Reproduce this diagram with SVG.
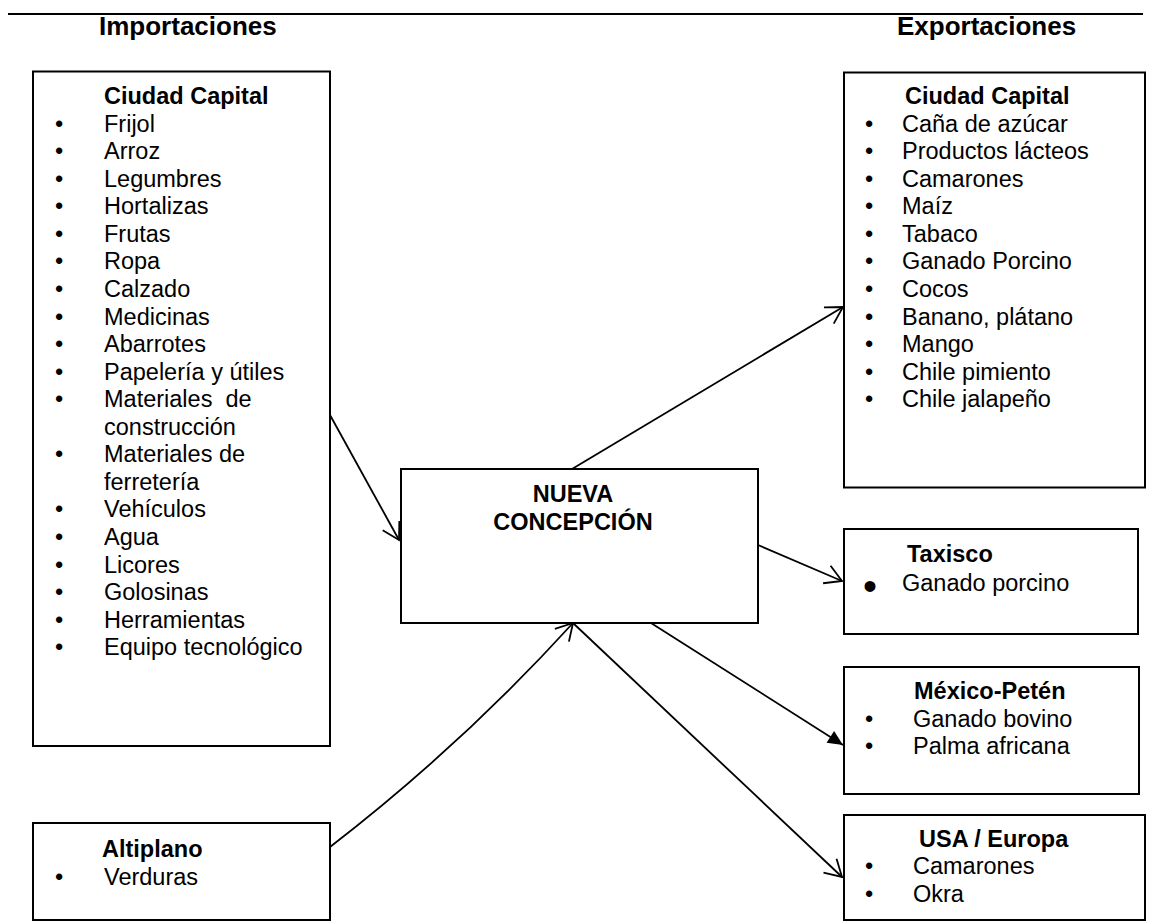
<svg xmlns="http://www.w3.org/2000/svg" width="1161" height="924" viewBox="0 0 1161 924">
<style>
  text { font-family: "Liberation Sans", Arial, sans-serif; fill: #000; }
  .h { font-size: 26px; font-weight: bold; }
  .t { font-size: 23.5px; font-weight: bold; }
  .i { font-size: 23.5px; }
  .b { font-size: 23.5px; text-anchor: middle; }
  .box { fill: #fff; stroke: #000; stroke-width: 2; }
  .c { fill: none; stroke: #000; stroke-width: 1.8; }
</style>
<defs>
  <marker id="open" markerUnits="userSpaceOnUse" viewBox="-19 -11 21 22" markerWidth="21" markerHeight="22" refX="0" refY="0" orient="auto">
    <path d="M-16.5,-9.5 L0,0 L-16.5,9.5" fill="none" stroke="#000" stroke-width="1.8"/>
  </marker>
  <marker id="filled" markerUnits="userSpaceOnUse" viewBox="-17 -9 18 18" markerWidth="18" markerHeight="18" refX="0" refY="0" orient="auto">
    <path d="M-15,-7 L0,0 L-15,7 Z" fill="#000"/>
  </marker>
</defs>

<line x1="8" y1="14" x2="1143" y2="14" stroke="#000" stroke-width="2"/>
<text class="h" x="99" y="35">Importaciones</text>
<text class="h" x="897" y="35">Exportaciones</text>

<g id="connectors">
  <line class="c" x1="330" y1="415" x2="399" y2="540" marker-end="url(#open)"/>
  <line class="c" x1="572" y1="469" x2="843" y2="307" marker-end="url(#open)"/>
  <line class="c" x1="758" y1="545" x2="842" y2="581" marker-end="url(#open)"/>
  <line class="c" x1="651" y1="623" x2="843" y2="745" marker-end="url(#filled)"/>
  <line class="c" x1="573" y1="623" x2="842" y2="877" marker-end="url(#open)"/>
  <path class="c" d="M330,847 Q461,746 573,623" marker-end="url(#open)"/>
</g>

<g id="imp-ciudad-capital">
  <rect class="box" x="33" y="71.5" width="297" height="674.5"/>
  <text class="t" x="104" y="103.5">Ciudad Capital</text>
  <g class="i">
    <text class="i" x="104" y="131.7">Frijol</text>
    <text class="i" x="104" y="159.2">Arroz</text>
    <text class="i" x="104" y="186.8">Legumbres</text>
    <text class="i" x="104" y="214.3">Hortalizas</text>
    <text class="i" x="104" y="241.9">Frutas</text>
    <text class="i" x="104" y="269.4">Ropa</text>
    <text class="i" x="104" y="297">Calzado</text>
    <text class="i" x="104" y="324.5">Medicinas</text>
    <text class="i" x="104" y="352.1">Abarrotes</text>
    <text class="i" x="104" y="379.6">Papelería y útiles</text>
    <text class="i" x="104" y="407.2" xml:space="preserve">Materiales  de</text>
    <text class="i" x="104" y="434.7">construcción</text>
    <text class="i" x="104" y="462.3">Materiales de</text>
    <text class="i" x="104" y="489.8">ferretería</text>
    <text class="i" x="104" y="517.4">Vehículos</text>
    <text class="i" x="104" y="544.9">Agua</text>
    <text class="i" x="104" y="572.5">Licores</text>
    <text class="i" x="104" y="600">Golosinas</text>
    <text class="i" x="104" y="627.6">Herramientas</text>
    <text class="i" x="104" y="655.1">Equipo tecnológico</text>
  </g>
  <g>
    <text class="b" x="59" y="131.7">•</text>
    <text class="b" x="59" y="159.2">•</text>
    <text class="b" x="59" y="186.8">•</text>
    <text class="b" x="59" y="214.3">•</text>
    <text class="b" x="59" y="241.9">•</text>
    <text class="b" x="59" y="269.4">•</text>
    <text class="b" x="59" y="297">•</text>
    <text class="b" x="59" y="324.5">•</text>
    <text class="b" x="59" y="352.1">•</text>
    <text class="b" x="59" y="379.6">•</text>
    <text class="b" x="59" y="407.2">•</text>
    <text class="b" x="59" y="462.3">•</text>
    <text class="b" x="59" y="517.4">•</text>
    <text class="b" x="59" y="544.9">•</text>
    <text class="b" x="59" y="572.5">•</text>
    <text class="b" x="59" y="600">•</text>
    <text class="b" x="59" y="627.6">•</text>
    <text class="b" x="59" y="655.1">•</text>
  </g>
</g>

<g id="imp-altiplano">
  <rect class="box" x="33" y="823" width="297" height="97"/>
  <text class="t" x="102" y="856.7">Altiplano</text>
  <text class="b" x="59" y="885">•</text>
  <text class="i" x="104" y="885">Verduras</text>
</g>

<g id="nueva-concepcion">
  <rect class="box" x="401" y="469" width="357" height="154"/>
  <text class="t" x="573" y="502" text-anchor="middle">NUEVA</text>
  <text class="t" x="573" y="530" text-anchor="middle">CONCEPCIÓN</text>
</g>

<g id="exp-ciudad-capital">
  <rect class="box" x="844" y="72.5" width="301" height="415"/>
  <text class="t" x="905" y="104.3">Ciudad Capital</text>
  <text class="i" x="902" y="131.7">Caña de azúcar</text>
  <text class="i" x="902" y="159.2">Productos lácteos</text>
  <text class="i" x="902" y="186.8">Camarones</text>
  <text class="i" x="902" y="214.3">Maíz</text>
  <text class="i" x="902" y="241.9">Tabaco</text>
  <text class="i" x="902" y="269.4">Ganado Porcino</text>
  <text class="i" x="902" y="297">Cocos</text>
  <text class="i" x="902" y="324.5">Banano, plátano</text>
  <text class="i" x="902" y="352.1">Mango</text>
  <text class="i" x="902" y="379.6">Chile pimiento</text>
  <text class="i" x="902" y="407.2">Chile jalapeño</text>
  <text class="b" x="869" y="131.7">•</text>
  <text class="b" x="869" y="159.2">•</text>
  <text class="b" x="869" y="186.8">•</text>
  <text class="b" x="869" y="214.3">•</text>
  <text class="b" x="869" y="241.9">•</text>
  <text class="b" x="869" y="269.4">•</text>
  <text class="b" x="869" y="297">•</text>
  <text class="b" x="869" y="324.5">•</text>
  <text class="b" x="869" y="352.1">•</text>
  <text class="b" x="869" y="379.6">•</text>
  <text class="b" x="869" y="407.2">•</text>
</g>

<g id="exp-taxisco">
  <rect class="box" x="844" y="529" width="294" height="105"/>
  <text class="t" x="907" y="561.7">Taxisco</text>
  <text class="b" x="870" y="600" style="font-size:40px">•</text>
  <text class="i" x="902" y="590.7">Ganado porcino</text>
</g>

<g id="exp-mexico-peten">
  <rect class="box" x="844" y="667" width="295" height="127"/>
  <text class="t" x="914" y="699">México-Petén</text>
  <text class="b" x="869" y="726.7">•</text>
  <text class="i" x="913" y="726.7">Ganado bovino</text>
  <text class="b" x="869" y="754.3">•</text>
  <text class="i" x="913" y="754.3">Palma africana</text>
</g>

<g id="exp-usa-europa">
  <rect class="box" x="844" y="815" width="301" height="105"/>
  <text class="t" x="919" y="846.7">USA / Europa</text>
  <text class="b" x="869" y="874">•</text>
  <text class="i" x="913" y="874">Camarones</text>
  <text class="b" x="869" y="901.7">•</text>
  <text class="i" x="913" y="901.7">Okra</text>
</g>
</svg>
